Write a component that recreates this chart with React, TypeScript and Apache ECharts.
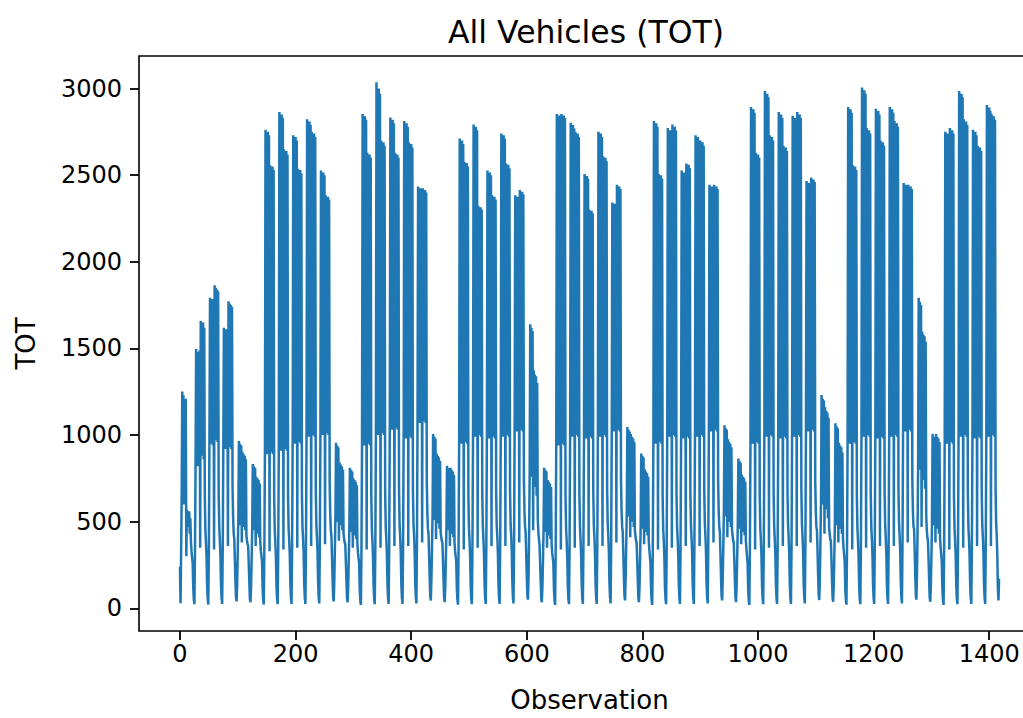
import React, { useEffect, useRef } from "react";
import * as echarts from "echarts";

// Hourly TOT counts, week by week (first day starts at 02:00).
const week1: number[] = [
  240, 30, 310, 650, 1251, 620, 1230, 600, 1190, 640, 1210, 300, 568, 480, 550, 470, 560, 430, 520, 380, 330, 290,
  260, 120, 50, 24, 320, 830, 1496, 850, 1480, 820, 1470, 860, 1490, 350, 1659, 880, 1640, 900, 1650, 860, 1620, 640, 450, 380,
  300, 130, 55, 22, 330, 960, 1792, 950, 1770, 980, 1785, 940, 1760, 340, 1864, 970, 1850, 990, 1840, 960, 1830, 660, 470, 390,
  310, 140, 60, 25, 340, 930, 1619, 940, 1600, 920, 1610, 950, 1590, 360, 1772, 930, 1760, 960, 1750, 920, 1740, 700, 520, 430,
  400, 280, 160, 60, 40, 150, 330, 520, 966, 480, 950, 530, 940, 380, 904, 500, 890, 470, 880, 450, 860, 420, 390, 370,
  360, 260, 150, 55, 35, 120, 280, 460, 833, 450, 820, 480, 810, 360, 760, 440, 750, 430, 740, 410, 720, 380, 330, 300,
];

const week2: number[] = [
  270, 120, 50, 22, 340, 900, 2762, 910, 2740, 890, 2750, 920, 2730, 330, 2558, 900, 2540, 920, 2550, 890, 2530, 640, 450, 380,
  300, 130, 55, 24, 330, 920, 2864, 930, 2840, 910, 2850, 940, 2830, 340, 2649, 920, 2630, 940, 2640, 910, 2620, 650, 460, 390,
  310, 140, 60, 25, 350, 960, 2731, 970, 2710, 950, 2720, 980, 2700, 350, 2537, 960, 2520, 980, 2530, 950, 2510, 660, 470, 400,
  320, 140, 60, 25, 360, 1000, 2823, 1010, 2800, 990, 2810, 1020, 2790, 360, 2751, 1000, 2730, 1020, 2740, 990, 2720, 680, 480, 410,
  330, 150, 65, 28, 360, 1010, 2527, 1020, 2510, 1000, 2515, 1030, 2500, 370, 2384, 1010, 2370, 1030, 2375, 1000, 2360, 720, 540, 450,
  420, 300, 170, 65, 40, 160, 340, 530, 956, 500, 940, 540, 930, 390, 843, 500, 830, 480, 820, 450, 800, 430, 400, 380,
  370, 270, 160, 60, 35, 120, 270, 450, 812, 440, 800, 470, 790, 350, 751, 430, 740, 420, 730, 400, 710, 370, 320, 290,
];

const week3: number[] = [
  260, 110, 45, 20, 340, 950, 2853, 960, 2830, 940, 2840, 970, 2820, 340, 2629, 950, 2610, 970, 2620, 940, 2600, 650, 460, 390,
  300, 130, 55, 24, 350, 1010, 3037, 1020, 2990, 1000, 3000, 1030, 2970, 350, 2700, 1010, 2680, 1030, 2690, 1000, 2670, 670, 470, 400,
  310, 140, 60, 25, 350, 1040, 2833, 1050, 2810, 1030, 2820, 1060, 2800, 360, 2629, 1040, 2610, 1060, 2620, 1030, 2600, 680, 480, 410,
  320, 140, 60, 25, 360, 990, 2813, 1000, 2790, 980, 2800, 1010, 2780, 360, 2690, 990, 2670, 1010, 2680, 980, 2660, 690, 490, 420,
  330, 150, 65, 28, 370, 1080, 2435, 1090, 2420, 1070, 2425, 1100, 2410, 380, 2425, 1080, 2410, 1100, 2415, 1070, 2400, 730, 550, 460,
  430, 310, 180, 70, 45, 170, 350, 540, 1006, 510, 990, 550, 980, 400, 894, 510, 880, 490, 870, 460, 850, 440, 410, 390,
  380, 280, 165, 62, 36, 125, 280, 460, 823, 450, 810, 480, 800, 360, 812, 440, 800, 430, 790, 410, 770, 380, 330, 300,
];

const week4: number[] = [
  270, 115, 48, 21, 340, 960, 2711, 970, 2690, 950, 2700, 980, 2680, 340, 2578, 960, 2560, 980, 2570, 950, 2550, 650, 460, 390,
  300, 130, 55, 24, 350, 1000, 2792, 1010, 2770, 990, 2780, 1020, 2760, 350, 2323, 1000, 2310, 1020, 2315, 990, 2300, 670, 470, 400,
  310, 140, 60, 25, 350, 990, 2527, 1000, 2510, 980, 2515, 1010, 2500, 360, 2384, 990, 2370, 1010, 2375, 980, 2360, 680, 480, 410,
  320, 140, 60, 25, 360, 1000, 2741, 1010, 2720, 990, 2730, 1020, 2710, 360, 2568, 1000, 2550, 1020, 2560, 990, 2540, 690, 490, 420,
  330, 150, 65, 28, 370, 1030, 2384, 1040, 2370, 1020, 2375, 1050, 2360, 380, 2415, 1030, 2400, 1050, 2405, 1020, 2390, 740, 560, 470,
  440, 320, 190, 75, 50, 180, 420, 780, 1639, 760, 1620, 800, 1600, 450, 1374, 720, 1350, 700, 1340, 650, 1300, 520, 440, 400,
  370, 270, 160, 60, 35, 120, 270, 450, 812, 440, 800, 470, 790, 350, 741, 430, 730, 420, 720, 400, 700, 370, 320, 290,
];

const week5: number[] = [
  260, 110, 45, 20, 340, 950, 2853, 960, 2830, 940, 2845, 970, 2830, 340, 2853, 950, 2840, 970, 2845, 940, 2830, 650, 460, 390,
  300, 130, 55, 24, 350, 1000, 2802, 1010, 2780, 990, 2790, 1020, 2770, 350, 2751, 1000, 2730, 1020, 2740, 990, 2720, 670, 470, 400,
  310, 140, 60, 25, 350, 990, 2507, 1000, 2490, 980, 2495, 1010, 2480, 360, 2302, 990, 2290, 1010, 2295, 980, 2280, 680, 480, 410,
  320, 140, 60, 25, 360, 1000, 2751, 1010, 2730, 990, 2740, 1020, 2720, 360, 2609, 1000, 2590, 1020, 2600, 990, 2580, 690, 490, 420,
  330, 150, 65, 28, 370, 1030, 2343, 1040, 2330, 1020, 2335, 1050, 2320, 380, 2445, 1030, 2430, 1050, 2435, 1020, 2420, 740, 560, 470,
  440, 320, 185, 72, 46, 175, 360, 560, 1047, 530, 1030, 570, 1020, 410, 1006, 520, 990, 500, 980, 470, 960, 450, 420, 390,
  380, 280, 165, 62, 36, 125, 290, 470, 894, 460, 880, 490, 870, 370, 802, 450, 790, 440, 780, 420, 760, 390, 340, 300,
];

const week6: number[] = [
  260, 110, 45, 20, 340, 960, 2813, 970, 2790, 950, 2800, 980, 2780, 340, 2507, 960, 2490, 980, 2500, 950, 2480, 650, 460, 390,
  300, 130, 55, 24, 350, 1000, 2772, 1010, 2750, 990, 2760, 1020, 2740, 350, 2792, 1000, 2770, 1020, 2780, 990, 2760, 670, 470, 400,
  310, 140, 60, 25, 350, 990, 2527, 1000, 2510, 980, 2515, 1010, 2500, 360, 2568, 990, 2550, 1010, 2560, 980, 2540, 680, 480, 410,
  320, 140, 60, 25, 360, 1000, 2731, 1010, 2710, 990, 2720, 1020, 2700, 360, 2700, 1000, 2680, 1020, 2690, 990, 2670, 690, 490, 420,
  330, 150, 65, 28, 370, 1030, 2445, 1040, 2430, 1020, 2435, 1050, 2420, 380, 2445, 1030, 2430, 1050, 2435, 1020, 2420, 740, 560, 470,
  440, 320, 185, 72, 46, 175, 360, 560, 1057, 530, 1040, 570, 1030, 410, 976, 520, 960, 500, 950, 470, 930, 450, 420, 390,
  380, 280, 165, 62, 36, 125, 290, 470, 864, 460, 850, 490, 840, 370, 772, 450, 760, 440, 750, 420, 730, 390, 340, 300,
];

const week7: number[] = [
  260, 110, 45, 20, 340, 960, 2894, 970, 2870, 950, 2880, 980, 2860, 340, 2629, 960, 2610, 980, 2620, 950, 2600, 650, 460, 390,
  300, 130, 55, 24, 350, 1000, 2986, 1010, 2960, 990, 2970, 1020, 2950, 350, 2731, 1000, 2710, 1020, 2720, 990, 2700, 670, 470, 400,
  310, 140, 60, 25, 350, 990, 2864, 1000, 2840, 980, 2850, 1010, 2830, 360, 2670, 990, 2650, 1010, 2660, 980, 2640, 680, 480, 410,
  320, 140, 60, 25, 360, 1000, 2843, 1010, 2820, 990, 2830, 1020, 2810, 360, 2864, 1000, 2840, 1020, 2850, 990, 2830, 690, 490, 420,
  330, 150, 65, 28, 370, 1030, 2466, 1040, 2450, 1020, 2455, 1050, 2440, 380, 2486, 1030, 2470, 1050, 2475, 1020, 2460, 740, 560, 470,
  450, 330, 190, 75, 48, 180, 380, 620, 1231, 600, 1210, 640, 1200, 430, 1160, 590, 1140, 570, 1130, 520, 1100, 470, 430, 400,
  390, 290, 170, 64, 38, 130, 300, 490, 1068, 480, 1050, 510, 1040, 380, 956, 470, 940, 460, 930, 430, 900, 400, 350, 310,
];

const week8: number[] = [
  270, 115, 48, 21, 340, 960, 2894, 970, 2870, 950, 2880, 980, 2860, 340, 2558, 960, 2540, 980, 2550, 950, 2530, 650, 460, 390,
  300, 130, 55, 24, 350, 1000, 3006, 1010, 2980, 990, 2990, 1020, 2970, 350, 2772, 1000, 2750, 1020, 2760, 990, 2740, 670, 470, 400,
  310, 140, 60, 25, 350, 990, 2884, 1000, 2860, 980, 2870, 1010, 2850, 360, 2700, 990, 2680, 1010, 2690, 980, 2670, 680, 480, 410,
  320, 140, 60, 25, 360, 1000, 2894, 1010, 2870, 990, 2880, 1020, 2860, 360, 2813, 1000, 2790, 1020, 2800, 990, 2780, 690, 490, 420,
  330, 150, 65, 28, 370, 1030, 2455, 1040, 2440, 1020, 2445, 1050, 2430, 380, 2445, 1030, 2430, 1050, 2435, 1020, 2420, 740, 560, 470,
  460, 340, 200, 78, 50, 190, 440, 820, 1792, 800, 1770, 840, 1750, 470, 1598, 760, 1580, 740, 1570, 690, 1540, 540, 450, 410,
  390, 290, 170, 64, 38, 130, 300, 490, 1006, 480, 990, 510, 980, 380, 1006, 470, 990, 460, 980, 430, 960, 400, 350, 310,
];

const week9: number[] = [
  260, 110, 45, 20, 340, 960, 2751, 970, 2730, 950, 2740, 980, 2720, 340, 2772, 960, 2750, 980, 2760, 950, 2740, 650, 460, 390,
  300, 130, 55, 24, 350, 1000, 2986, 1010, 2960, 990, 2970, 1020, 2950, 350, 2823, 1000, 2800, 1020, 2810, 990, 2790, 670, 470, 400,
  310, 140, 60, 25, 350, 990, 2762, 1000, 2740, 980, 2750, 1010, 2730, 360, 2670, 990, 2650, 1010, 2660, 980, 2640, 680, 480, 410,
  320, 140, 60, 25, 360, 1000, 2905, 1010, 2880, 990, 2890, 1020, 2870, 360, 2853, 1000, 2830, 1020, 2840, 990, 2820, 690, 490, 420,
  300, 110, 45, 171,
];

const tot: number[] = [...week1, ...week2, ...week3, ...week4, ...week5, ...week6, ...week7, ...week8, ...week9];

const xTicks = [0, 200, 400, 600, 800, 1000, 1200, 1400];
const yTicks = [0, 500, 1000, 1500, 2000, 2500, 3000];

const FONT = "DejaVu Sans";
const CHART_W = 1045; // wider than the window: the right spine sits just off-canvas, as in the reference
const CHART_H = 718;

export default function App() {
  const ref = useRef<HTMLDivElement>(null);
  useEffect(() => {
    if (!ref.current) return;
    const chart = echarts.init(ref.current, null, { renderer: "svg", width: CHART_W, height: CHART_H });
    const n = tot.length;
    const lo = Math.min(...tot);
    const hi = Math.max(...tot);
    const xPad = 0.05 * (n - 1);
    const yPad = 0.05 * (hi - lo);
    const data = tot.map((v, i) => [i, v]);
    chart.setOption({
      animation: false,
      backgroundColor: "#ffffff",
      grid: {
        left: 139,
        right: CHART_W - 1040,
        top: 56,
        bottom: CHART_H - 642,
        show: true,
        borderColor: "#000",
        borderWidth: 1.6,
        backgroundColor: "transparent",
      },
      graphic: [
        {
          type: "text",
          x: 586,
          y: 32,
          style: {
            text: "All Vehicles (TOT)",
            font: `31.5px "${FONT}"`,
            fill: "#000",
            textAlign: "center",
            textVerticalAlign: "middle",
          },
        },
      ],
      xAxis: {
        type: "value",
        min: -xPad,
        max: n - 1 + xPad,
        name: "Observation",
        nameLocation: "middle",
        nameGap: 56,
        nameTextStyle: { fontFamily: FONT, fontSize: 26, color: "#000" },
        axisLine: { show: false, onZero: false },
        splitLine: { show: false },
        axisTick: {
          show: true,
          length: 9,
          customValues: xTicks,
          lineStyle: { color: "#000", width: 1.8 },
        },
        axisLabel: {
          customValues: xTicks,
          formatter: (v: number) => String(v),
          margin: 11,
          fontFamily: FONT,
          fontSize: 24,
          color: "#000",
        },
      },
      yAxis: {
        type: "value",
        min: lo - yPad,
        max: hi + yPad,
        name: "TOT",
        nameLocation: "middle",
        nameGap: 100,
        nameTextStyle: { fontFamily: FONT, fontSize: 26, color: "#000" },
        axisLine: { show: false, onZero: false },
        splitLine: { show: false },
        axisTick: {
          show: true,
          length: 9,
          customValues: yTicks,
          lineStyle: { color: "#000", width: 1.8 },
        },
        axisLabel: {
          customValues: yTicks,
          formatter: (v: number) => String(v),
          margin: 17,
          fontFamily: FONT,
          fontSize: 24,
          color: "#000",
        },
      },
      series: [
        {
          type: "line",
          data,
          showSymbol: false,
          symbol: "none",
          lineStyle: { color: "#1f77b4", width: 2.5 },
          emphasis: { disabled: true },
        },
      ],
    });
    return () => chart.dispose();
  }, []);
  return (
    <div style={{ position: "fixed", left: 0, top: 0, width: 1023, height: CHART_H, overflow: "hidden", background: "#fff" }}>
      <div ref={ref} style={{ width: CHART_W, height: CHART_H }} />
    </div>
  );
}
